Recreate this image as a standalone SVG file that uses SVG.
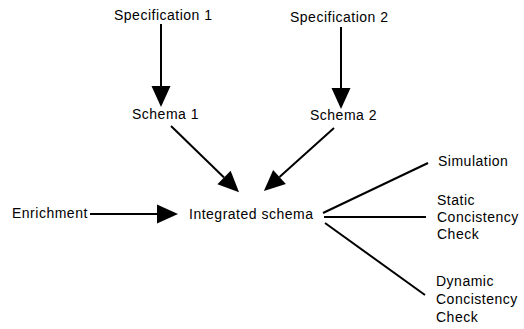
<svg xmlns="http://www.w3.org/2000/svg" width="524" height="329" viewBox="0 0 524 329">
<style>
text{font-family:"Liberation Sans",Arial,Helvetica,sans-serif;font-size:14px;letter-spacing:0.5px;fill:#000}
.c{stroke:#000;stroke-width:2;fill:none}
.a{marker-end:url(#ah)}
</style>
<defs>
<marker id="ah" markerUnits="userSpaceOnUse" markerWidth="22" markerHeight="20" refX="0" refY="9.5" orient="auto" overflow="visible">
<path d="M0,0 L21,9.5 L0,19 Z" fill="#000"/>
</marker>
</defs>
<rect width="524" height="329" fill="#fff"/>
<g id="connectors">
<line class="c a" x1="161" y1="24" x2="161" y2="86"/>
<line class="c a" x1="341" y1="27" x2="341" y2="88"/>
<line class="c a" x1="171" y1="126" x2="224" y2="177.5"/>
<line class="c a" x1="334" y1="128" x2="279.5" y2="177"/>
<line class="c a" x1="90" y1="214" x2="157" y2="214"/>
<line class="c" x1="323" y1="213" x2="428" y2="163"/>
<line class="c" x1="324" y1="217" x2="426" y2="217"/>
<line class="c" x1="325" y1="223" x2="425" y2="295"/>
</g>
<g id="spec1"><text x="114" y="20">Specification 1</text></g>
<g id="spec2"><text x="290" y="22">Specification 2</text></g>
<g id="schema1"><text x="132" y="119">Schema 1</text></g>
<g id="schema2"><text x="310" y="120">Schema 2</text></g>
<g id="enrichment"><text x="12" y="218">Enrichment</text></g>
<g id="integrated"><text x="189" y="219">Integrated schema</text></g>
<g id="simulation"><text x="438" y="166">Simulation</text></g>
<g id="static"><text x="437" y="205">Static</text><text x="437" y="222">Concistency</text><text x="437" y="239">Check</text></g>
<g id="dynamic"><text x="436" y="286">Dynamic</text><text x="436" y="304">Concistency</text><text x="436" y="322">Check</text></g>
</svg>
